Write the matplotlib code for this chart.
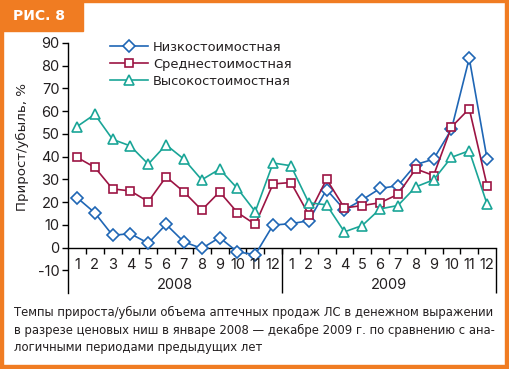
import matplotlib
matplotlib.use("Agg")
import matplotlib.pyplot as plt
from matplotlib.patches import Rectangle
import numpy as np

plt.rcParams['font.family'] = ['DejaVu Sans']
plt.rcParams['axes.unicode_minus'] = False

months = [str(m) for m in range(1, 13)] * 2
years = ["2008", "2009"]
series_names = ["Низкостоимостная", "Среднестоимостная", "Высокостоимостная"]
low = [22, 15.3, 5.4, 6.1, 1.9, 10.2, 2.5, -0.4, 4.4, -1.9, -3.1, 9.9,
       10.5, 11.8, 25.5, 16.6, 21.0, 26.0, 27.2, 36.5, 38.9, 52, 83.3, 39]
mid = [39.7, 35.3, 25.8, 24.9, 20.2, 31.1, 24.5, 16.5, 24.5, 15.4, 10.2, 28.0,
       28.6, 14.5, 30.1, 17.4, 18.5, 19.7, 23.4, 34.6, 31.7, 53, 61.1, 27.2]
high = [53.2, 58.6, 47.6, 44.7, 36.7, 45.2, 38.9, 29.8, 34.5, 26.0, 15.8, 37.2,
        36.0, 19.7, 18.8, 6.9, 9.7, 17.0, 18.5, 26.7, 29.8, 39.7, 42.6, 19.1]
yticks = [-10, 0, 10, 20, 30, 40, 50, 60, 70, 80, 90]
ylabel = "Прирост/убыль, %"
title_tab = "РИС. 8"
caption = ("Темпы прироста/убыли объема аптечных продаж ЛС в денежном выражении\n"
           "в разрезе ценовых ниш в январе 2008 — декабре 2009 г. по сравнению с ана-\n"
           "логичными периодами предыдущих лет")

colors = ["#1f66b5", "#9c1443", "#1aa597"]
markers = ["D", "s", "^"]
msizes = [5.8, 6.2, 7.2]
num_font = ["Inter", "DejaVu Sans"]
txt = "#231f20"

W, H = 509, 369
fig = plt.figure(figsize=(W / 100, H / 100), dpi=100)
ax = fig.add_axes([68 / W, 1 - 293 / H, (496 - 68) / W, (293 - 43) / H])

x = np.arange(len(months))
handles = []
for vals, c, m, ms, name in zip([low, mid, high], colors, markers, msizes, series_names):
    h, = ax.plot(x, vals, color=c, lw=1.2, marker=m, ms=ms, mfc="white",
                 mec=c, mew=1.2, label=name, zorder=3, clip_on=False)
    handles.append(h)

ax.set_xlim(-0.5, len(months) - 0.5)
ax.set_ylim(-20, 90)
ax.set_yticks(yticks)
ax.set_yticklabels([str(v) for v in yticks], family=num_font, fontsize=10.5, color=txt)
ax.tick_params(axis="y", direction="out", length=4, width=1, pad=2)
for s in ["top", "right"]:
    ax.spines[s].set_visible(False)
ax.spines["left"].set_linewidth(1)
ax.spines["bottom"].set_position(("data", 0))
ax.spines["bottom"].set_linewidth(1)

ax.set_xticks(x[:-1] + 0.5)
ax.set_xticklabels([])
ax.tick_params(axis="x", which="major", direction="out", length=4, width=1)
ax.tick_params(axis="x", which="minor", length=0)
for xi, lab in zip(x, months):
    ax.text(xi, -7.7, lab, ha="center", va="center", fontsize=10.5, color=txt,
            family=num_font)
n = len(months) // 2
for k, yr in enumerate(years):
    ax.text(k * n + (n - 1) / 2, -16.3, yr, ha="center", va="center",
            fontsize=10.5, color=txt, family=num_font)
ax.vlines([n - 0.5, len(months) - 0.5], -20, 0, color="black", lw=1, clip_on=False)

fig.text(22 / W, 1 - 147 / H, ylabel, rotation=90, ha="center", va="center",
         fontsize=9.6, color=txt)

leg = ax.legend(handles=handles, loc="upper left", bbox_to_anchor=(110 / W, 1 - 41 / H),
                bbox_transform=fig.transFigure, frameon=False, fontsize=9.4,
                handlelength=2.9, handletextpad=0.38, labelspacing=0.3,
                borderpad=0, borderaxespad=0)
for t in leg.get_texts():
    t.set_color(txt)

fig.text(14 / W, 1 - 306 / H, caption, ha="left", va="top", fontsize=8.37,
         color=txt, linespacing=1.43)

orange = "#f07c22"
fig.patches.append(Rectangle((0, 1 - 2 / H), 1, 2 / H, transform=fig.transFigure, color=orange))
fig.patches.append(Rectangle((0, 0), 3 / W, 1, transform=fig.transFigure, color=orange))
fig.patches.append(Rectangle((1 - 4 / W, 0), 4 / W, 1, transform=fig.transFigure, color=orange))
fig.patches.append(Rectangle((0, 0), 1, 4 / H, transform=fig.transFigure, color=orange))
fig.patches.append(Rectangle((0, 1 - 31 / H), 83 / W, 31 / H, transform=fig.transFigure, color=orange))
fig.text(13 / W, 1 - 16 / H, title_tab, ha="left", va="center", fontsize=10,
         fontweight="bold", color="white")

fig.savefig("out.png", dpi=100)
